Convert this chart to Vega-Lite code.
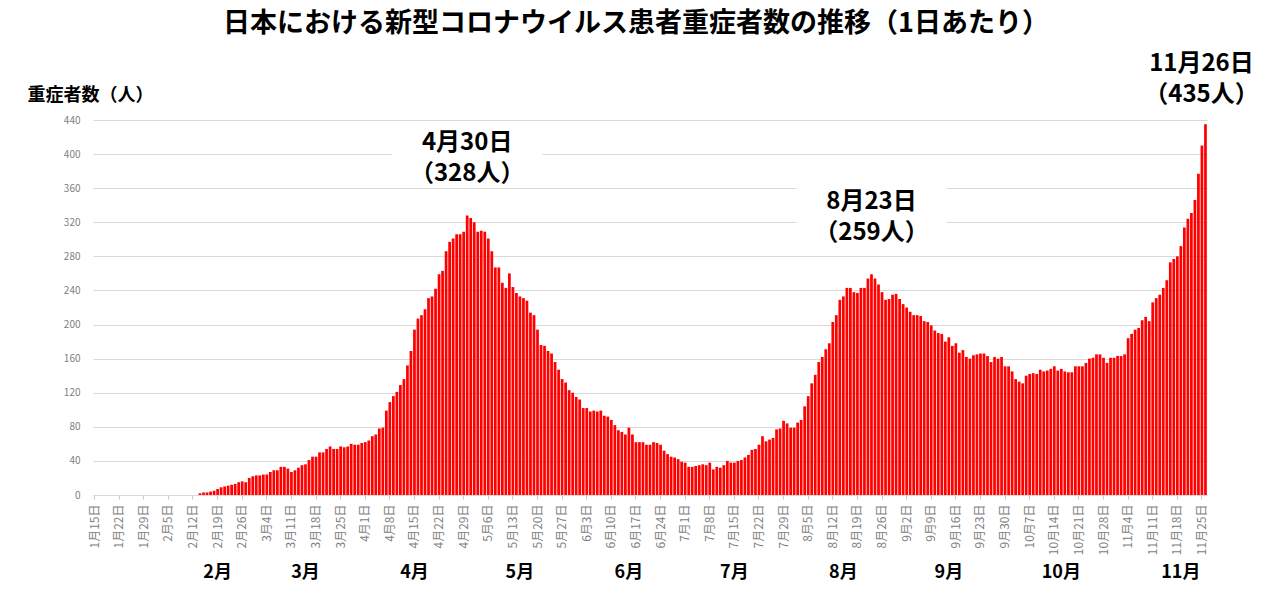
{
  "$schema": "https://vega.github.io/schema/vega-lite/v6.json",
  "width": 1114,
  "height": 375,
  "autosize": {"type": "none"},
  "padding": {"left": 93, "top": 120, "right": 66, "bottom": 99},
  "background": "white",
  "title": {"text": "日本における新型コロナウイルス患者重症者数の推移（1日あたり）", "font": "Noto Sans CJK JP", "fontSize": 27, "fontWeight": "bold", "color": "#000000", "anchor": "middle", "frame": "group", "dx": -14, "offset": 14},
  "config": {"view": {"stroke": null}, "font": "Noto Sans CJK JP"},
  "datasets": {
    "bars": [
      {"date":"2020-01-15","v":0},{"date":"2020-01-16","v":0},{"date":"2020-01-17","v":0},{"date":"2020-01-18","v":0},{"date":"2020-01-19","v":0},{"date":"2020-01-20","v":0},{"date":"2020-01-21","v":0},{"date":"2020-01-22","v":0},{"date":"2020-01-23","v":0},{"date":"2020-01-24","v":0},{"date":"2020-01-25","v":0},{"date":"2020-01-26","v":0},{"date":"2020-01-27","v":0},{"date":"2020-01-28","v":0},{"date":"2020-01-29","v":0},{"date":"2020-01-30","v":0},{"date":"2020-01-31","v":0},
      {"date":"2020-02-01","v":0},{"date":"2020-02-02","v":0},{"date":"2020-02-03","v":0},{"date":"2020-02-04","v":0},{"date":"2020-02-05","v":0},{"date":"2020-02-06","v":0},{"date":"2020-02-07","v":0},{"date":"2020-02-08","v":0},{"date":"2020-02-09","v":0},{"date":"2020-02-10","v":0},{"date":"2020-02-11","v":0},{"date":"2020-02-12","v":0},{"date":"2020-02-13","v":0},{"date":"2020-02-14","v":2},{"date":"2020-02-15","v":3},{"date":"2020-02-16","v":3},{"date":"2020-02-17","v":4},{"date":"2020-02-18","v":5},{"date":"2020-02-19","v":7},{"date":"2020-02-20","v":9},{"date":"2020-02-21","v":10},{"date":"2020-02-22","v":11},{"date":"2020-02-23","v":12},{"date":"2020-02-24","v":13},{"date":"2020-02-25","v":15},{"date":"2020-02-26","v":16},{"date":"2020-02-27","v":15},{"date":"2020-02-28","v":20},{"date":"2020-02-29","v":22},
      {"date":"2020-03-01","v":23},{"date":"2020-03-02","v":23},{"date":"2020-03-03","v":24},{"date":"2020-03-04","v":24},{"date":"2020-03-05","v":27},{"date":"2020-03-06","v":29},{"date":"2020-03-07","v":29},{"date":"2020-03-08","v":33},{"date":"2020-03-09","v":33},{"date":"2020-03-10","v":31},{"date":"2020-03-11","v":27},{"date":"2020-03-12","v":29},{"date":"2020-03-13","v":32},{"date":"2020-03-14","v":35},{"date":"2020-03-15","v":36},{"date":"2020-03-16","v":41},{"date":"2020-03-17","v":45},{"date":"2020-03-18","v":45},{"date":"2020-03-19","v":50},{"date":"2020-03-20","v":50},{"date":"2020-03-21","v":54},{"date":"2020-03-22","v":57},{"date":"2020-03-23","v":54},{"date":"2020-03-24","v":54},{"date":"2020-03-25","v":57},{"date":"2020-03-26","v":56},{"date":"2020-03-27","v":57},{"date":"2020-03-28","v":60},{"date":"2020-03-29","v":59},{"date":"2020-03-30","v":59},{"date":"2020-03-31","v":61},
      {"date":"2020-04-01","v":62},{"date":"2020-04-02","v":64},{"date":"2020-04-03","v":69},{"date":"2020-04-04","v":71},{"date":"2020-04-05","v":78},{"date":"2020-04-06","v":79},{"date":"2020-04-07","v":99},{"date":"2020-04-08","v":109},{"date":"2020-04-09","v":116},{"date":"2020-04-10","v":121},{"date":"2020-04-11","v":129},{"date":"2020-04-12","v":136},{"date":"2020-04-13","v":152},{"date":"2020-04-14","v":169},{"date":"2020-04-15","v":194},{"date":"2020-04-16","v":207},{"date":"2020-04-17","v":211},{"date":"2020-04-18","v":218},{"date":"2020-04-19","v":231},{"date":"2020-04-20","v":233},{"date":"2020-04-21","v":242},{"date":"2020-04-22","v":259},{"date":"2020-04-23","v":263},{"date":"2020-04-24","v":286},{"date":"2020-04-25","v":297},{"date":"2020-04-26","v":301},{"date":"2020-04-27","v":306},{"date":"2020-04-28","v":306},{"date":"2020-04-29","v":309},{"date":"2020-04-30","v":328},
      {"date":"2020-05-01","v":325},{"date":"2020-05-02","v":320},{"date":"2020-05-03","v":309},{"date":"2020-05-04","v":310},{"date":"2020-05-05","v":309},{"date":"2020-05-06","v":301},{"date":"2020-05-07","v":286},{"date":"2020-05-08","v":267},{"date":"2020-05-09","v":267},{"date":"2020-05-10","v":249},{"date":"2020-05-11","v":243},{"date":"2020-05-12","v":260},{"date":"2020-05-13","v":244},{"date":"2020-05-14","v":237},{"date":"2020-05-15","v":233},{"date":"2020-05-16","v":231},{"date":"2020-05-17","v":228},{"date":"2020-05-18","v":214},{"date":"2020-05-19","v":211},{"date":"2020-05-20","v":194},{"date":"2020-05-21","v":176},{"date":"2020-05-22","v":175},{"date":"2020-05-23","v":169},{"date":"2020-05-24","v":166},{"date":"2020-05-25","v":156},{"date":"2020-05-26","v":147},{"date":"2020-05-27","v":136},{"date":"2020-05-28","v":132},{"date":"2020-05-29","v":123},{"date":"2020-05-30","v":120},{"date":"2020-05-31","v":115},
      {"date":"2020-06-01","v":112},{"date":"2020-06-02","v":102},{"date":"2020-06-03","v":102},{"date":"2020-06-04","v":98},{"date":"2020-06-05","v":99},{"date":"2020-06-06","v":98},{"date":"2020-06-07","v":99},{"date":"2020-06-08","v":93},{"date":"2020-06-09","v":92},{"date":"2020-06-10","v":88},{"date":"2020-06-11","v":82},{"date":"2020-06-12","v":76},{"date":"2020-06-13","v":74},{"date":"2020-06-14","v":71},{"date":"2020-06-15","v":79},{"date":"2020-06-16","v":71},{"date":"2020-06-17","v":62},{"date":"2020-06-18","v":62},{"date":"2020-06-19","v":62},{"date":"2020-06-20","v":59},{"date":"2020-06-21","v":59},{"date":"2020-06-22","v":62},{"date":"2020-06-23","v":61},{"date":"2020-06-24","v":59},{"date":"2020-06-25","v":52},{"date":"2020-06-26","v":48},{"date":"2020-06-27","v":45},{"date":"2020-06-28","v":44},{"date":"2020-06-29","v":42},{"date":"2020-06-30","v":39},
      {"date":"2020-07-01","v":38},{"date":"2020-07-02","v":33},{"date":"2020-07-03","v":33},{"date":"2020-07-04","v":34},{"date":"2020-07-05","v":35},{"date":"2020-07-06","v":36},{"date":"2020-07-07","v":35},{"date":"2020-07-08","v":38},{"date":"2020-07-09","v":30},{"date":"2020-07-10","v":33},{"date":"2020-07-11","v":32},{"date":"2020-07-12","v":35},{"date":"2020-07-13","v":40},{"date":"2020-07-14","v":38},{"date":"2020-07-15","v":38},{"date":"2020-07-16","v":40},{"date":"2020-07-17","v":41},{"date":"2020-07-18","v":44},{"date":"2020-07-19","v":47},{"date":"2020-07-20","v":53},{"date":"2020-07-21","v":54},{"date":"2020-07-22","v":59},{"date":"2020-07-23","v":69},{"date":"2020-07-24","v":63},{"date":"2020-07-25","v":65},{"date":"2020-07-26","v":67},{"date":"2020-07-27","v":77},{"date":"2020-07-28","v":78},{"date":"2020-07-29","v":87},{"date":"2020-07-30","v":84},{"date":"2020-07-31","v":79},
      {"date":"2020-08-01","v":79},{"date":"2020-08-02","v":85},{"date":"2020-08-03","v":88},{"date":"2020-08-04","v":104},{"date":"2020-08-05","v":116},{"date":"2020-08-06","v":131},{"date":"2020-08-07","v":141},{"date":"2020-08-08","v":156},{"date":"2020-08-09","v":162},{"date":"2020-08-10","v":171},{"date":"2020-08-11","v":178},{"date":"2020-08-12","v":203},{"date":"2020-08-13","v":211},{"date":"2020-08-14","v":229},{"date":"2020-08-15","v":233},{"date":"2020-08-16","v":243},{"date":"2020-08-17","v":243},{"date":"2020-08-18","v":238},{"date":"2020-08-19","v":237},{"date":"2020-08-20","v":243},{"date":"2020-08-21","v":243},{"date":"2020-08-22","v":254},{"date":"2020-08-23","v":259},{"date":"2020-08-24","v":254},{"date":"2020-08-25","v":247},{"date":"2020-08-26","v":238},{"date":"2020-08-27","v":229},{"date":"2020-08-28","v":230},{"date":"2020-08-29","v":235},{"date":"2020-08-30","v":236},{"date":"2020-08-31","v":230},
      {"date":"2020-09-01","v":224},{"date":"2020-09-02","v":220},{"date":"2020-09-03","v":215},{"date":"2020-09-04","v":211},{"date":"2020-09-05","v":211},{"date":"2020-09-06","v":210},{"date":"2020-09-07","v":204},{"date":"2020-09-08","v":203},{"date":"2020-09-09","v":199},{"date":"2020-09-10","v":193},{"date":"2020-09-11","v":190},{"date":"2020-09-12","v":189},{"date":"2020-09-13","v":180},{"date":"2020-09-14","v":185},{"date":"2020-09-15","v":175},{"date":"2020-09-16","v":178},{"date":"2020-09-17","v":167},{"date":"2020-09-18","v":170},{"date":"2020-09-19","v":162},{"date":"2020-09-20","v":160},{"date":"2020-09-21","v":164},{"date":"2020-09-22","v":165},{"date":"2020-09-23","v":166},{"date":"2020-09-24","v":166},{"date":"2020-09-25","v":163},{"date":"2020-09-26","v":156},{"date":"2020-09-27","v":162},{"date":"2020-09-28","v":160},{"date":"2020-09-29","v":162},{"date":"2020-09-30","v":151},
      {"date":"2020-10-01","v":151},{"date":"2020-10-02","v":145},{"date":"2020-10-03","v":136},{"date":"2020-10-04","v":133},{"date":"2020-10-05","v":131},{"date":"2020-10-06","v":140},{"date":"2020-10-07","v":142},{"date":"2020-10-08","v":143},{"date":"2020-10-09","v":142},{"date":"2020-10-10","v":147},{"date":"2020-10-11","v":145},{"date":"2020-10-12","v":146},{"date":"2020-10-13","v":148},{"date":"2020-10-14","v":151},{"date":"2020-10-15","v":146},{"date":"2020-10-16","v":148},{"date":"2020-10-17","v":145},{"date":"2020-10-18","v":144},{"date":"2020-10-19","v":144},{"date":"2020-10-20","v":151},{"date":"2020-10-21","v":151},{"date":"2020-10-22","v":151},{"date":"2020-10-23","v":155},{"date":"2020-10-24","v":160},{"date":"2020-10-25","v":161},{"date":"2020-10-26","v":165},{"date":"2020-10-27","v":165},{"date":"2020-10-28","v":161},{"date":"2020-10-29","v":155},{"date":"2020-10-30","v":161},{"date":"2020-10-31","v":161},
      {"date":"2020-11-01","v":163},{"date":"2020-11-02","v":163},{"date":"2020-11-03","v":165},{"date":"2020-11-04","v":184},{"date":"2020-11-05","v":189},{"date":"2020-11-06","v":194},{"date":"2020-11-07","v":196},{"date":"2020-11-08","v":205},{"date":"2020-11-09","v":209},{"date":"2020-11-10","v":204},{"date":"2020-11-11","v":226},{"date":"2020-11-12","v":231},{"date":"2020-11-13","v":235},{"date":"2020-11-14","v":243},{"date":"2020-11-15","v":252},{"date":"2020-11-16","v":273},{"date":"2020-11-17","v":277},{"date":"2020-11-18","v":280},{"date":"2020-11-19","v":292},{"date":"2020-11-20","v":314},{"date":"2020-11-21","v":324},{"date":"2020-11-22","v":331},{"date":"2020-11-23","v":346},{"date":"2020-11-24","v":377},{"date":"2020-11-25","v":410},{"date":"2020-11-26","v":435}
    ],
    "notes": [
      {"date":"2020-04-30","v":328,"label":"4月30日\n（328人）"},
      {"date":"2020-08-23","v":259,"label":"8月23日\n（259人）"}
    ],
    "notes2": [
      {"date":"2020-11-26","v":435,"label":"11月26日\n（435人）"}
    ]
  },
  "resolve": {"axis": {"x": "independent"}},
  "layer": [
    {
      "data": {"name": "bars"},
      "mark": {"type": "bar", "color": "#ff0000"},
      "encoding": {
        "x": {
          "field": "date", "type": "ordinal",
          "scale": {"paddingInner": 0.22, "paddingOuter": 0.05},
          "axis": {
            "orient": "bottom", "title": null, "grid": false,
            "values": ["2020-01-15","2020-01-22","2020-01-29","2020-02-05","2020-02-12","2020-02-19","2020-02-26","2020-03-04","2020-03-11","2020-03-18","2020-03-25","2020-04-01","2020-04-08","2020-04-15","2020-04-22","2020-04-29","2020-05-06","2020-05-13","2020-05-20","2020-05-27","2020-06-03","2020-06-10","2020-06-17","2020-06-24","2020-07-01","2020-07-08","2020-07-15","2020-07-22","2020-07-29","2020-08-05","2020-08-12","2020-08-19","2020-08-26","2020-09-02","2020-09-09","2020-09-16","2020-09-23","2020-09-30","2020-10-07","2020-10-14","2020-10-21","2020-10-28","2020-11-04","2020-11-11","2020-11-18","2020-11-25"],
            "labelExpr": "toNumber(substring(datum.value,5,7)) + '月' + toNumber(substring(datum.value,8,10)) + '日'",
            "labelAngle": 270, "labelFontSize": 12, "labelColor": "#808080", "labelOverlap": false,
            "labelPadding": 5, "tickColor": "#c8c8c8", "tickSize": 4, "domainColor": "#d9d9d9"
          }
        },
        "y": {
          "field": "v", "type": "quantitative",
          "scale": {"domain": [0, 440], "nice": false},
          "axis": {
            "values": [0,40,80,120,160,200,240,280,320,360,400,440],
            "tickCount": 12,
            "grid": true, "gridColor": "#d9d9d9", "domain": false, "ticks": false,
            "labelOverlap": false,
            "labelFontSize": 10, "labelColor": "#808080", "labelPadding": 13,
            "title": "重症者数（人）", "titleAngle": 0, "titleX": -3, "titleY": -25,
            "titleAlign": "center", "titleBaseline": "middle", "titleFontSize": 18,
            "titleFontWeight": "bold", "titleColor": "#000000"
          }
        }
      }
    },
    {
      "data": {"name": "notes"},
      "mark": {"type": "point", "shape": "M-1,-1.2L1,-1.2L1,-0.37L-1,-0.37Z", "size": 22500, "filled": true, "color": "#ffffff", "opacity": 1, "strokeWidth": 0},
      "encoding": {
        "x": {
          "field": "date", "type": "ordinal",
          "axis": {
            "orient": "bottom", "title": null, "offset": 60, "domain": false, "ticks": false, "grid": false,
            "values": ["2020-02-19","2020-03-15","2020-04-15","2020-05-15","2020-06-15","2020-07-15","2020-08-15","2020-09-14","2020-10-16","2020-11-19"],
            "labelExpr": "toNumber(substring(datum.value,5,7)) + '月'",
            "labelAngle": 0, "labelFontSize": 18, "labelFontWeight": "bold", "labelColor": "#000000",
            "labelPadding": 8, "labelOverlap": false
          }
        },
        "y": {"field": "v", "type": "quantitative"}
      }
    },
    {
      "data": {"name": "notes"},
      "mark": {"type": "text", "fontSize": 24, "fontWeight": "bold", "lineBreak": "\n", "lineHeight": 31, "baseline": "bottom", "dy": -60, "color": "#000000"},
      "encoding": {
        "x": {"field": "date", "type": "ordinal", "axis": null},
        "y": {"field": "v", "type": "quantitative"},
        "text": {"field": "label"}
      }
    },
    {
      "data": {"name": "notes2"},
      "mark": {"type": "text", "fontSize": 24, "fontWeight": "bold", "lineBreak": "\n", "lineHeight": 31, "baseline": "bottom", "dy": -48, "dx": -4, "color": "#000000"},
      "encoding": {
        "x": {"field": "date", "type": "ordinal", "axis": null},
        "y": {"field": "v", "type": "quantitative"},
        "text": {"field": "label"}
      }
    }
  ]
}
